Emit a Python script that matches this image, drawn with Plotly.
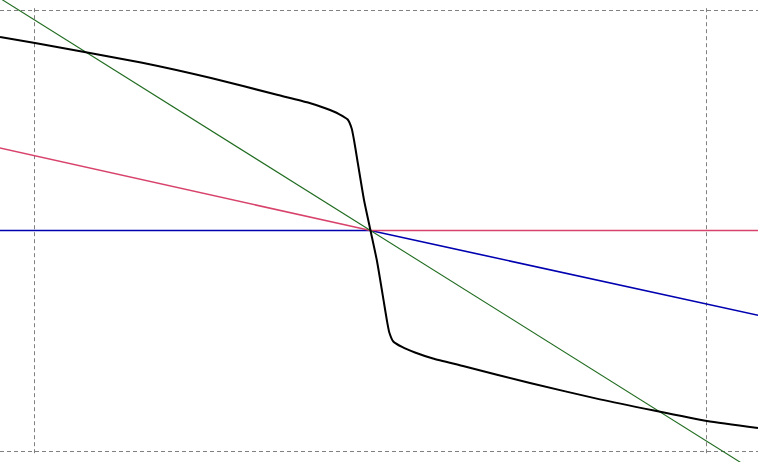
import plotly.graph_objects as go

# Grid positions (dashed reference lines)
x_grid = [-1.0, 1.0]
y_grid = [-1.0, 1.0]

# Straight lines
line_x = [-1.2, 0.0, 1.2]
pink_y = [0.407, 0.0, 0.0]
blue_y = [0.0, 0.0, -0.40]
green_x = [-1.2, 1.2]
green_y = [1.146, -1.146]

# Black curve
black_x = [-1.1027, -0.9985, -0.6830, -0.4747, -0.2753, -0.1860, -0.1324, -0.0938,
           -0.0679, -0.0560, -0.0491, -0.0402, -0.0193, 0.0,
           0.0193, 0.0402, 0.0491, 0.0560, 0.0679, 0.0938, 0.1324, 0.1860,
           0.2753, 0.4747, 0.6830, 1.0015, 1.1533]
black_y = [0.8776, 0.8503, 0.7620, 0.6916, 0.6145, 0.5805, 0.5533, 0.5283,
           0.5034, 0.4626, 0.4104, 0.3288, 0.1383, 0.0,
           -0.1383, -0.3288, -0.4104, -0.4626, -0.5034, -0.5283, -0.5533, -0.5805,
           -0.6145, -0.6916, -0.7660, -0.8639, -0.8957]

x_range = [-1.1027, 1.1533]
y_range = [-1.0499, 1.0454]

fig = go.Figure()
fig.add_trace(go.Scatter(x=line_x, y=blue_y, mode="lines",
                         line=dict(color="#0000b0", width=1.6), hoverinfo="skip"))
fig.add_trace(go.Scatter(x=line_x, y=pink_y, mode="lines",
                         line=dict(color="#d8436c", width=1.6), hoverinfo="skip"))
fig.add_trace(go.Scatter(x=green_x, y=green_y, mode="lines",
                         line=dict(color="#1f6b1f", width=1.1), hoverinfo="skip"))
fig.add_trace(go.Scatter(x=black_x, y=black_y, mode="lines",
                         line=dict(color="#000000", width=2, shape="spline", smoothing=0.5),
                         hoverinfo="skip"))

for gx in x_grid:
    fig.add_shape(type="line", xref="x", yref="y", x0=gx, x1=gx,
                  y0=y_grid[0] - 0.01, y1=y_grid[1] + 0.01, layer="below",
                  line=dict(color="#808080", width=1, dash="4px,3px"))

fig.update_layout(
    width=758, height=462, autosize=False,
    margin=dict(l=0, r=0, t=0, b=0, pad=0),
    paper_bgcolor="white", plot_bgcolor="white",
    showlegend=False,
    xaxis=dict(range=x_range, showgrid=False, zeroline=False, showline=False,
               showticklabels=False, ticks="", tickvals=x_grid, fixedrange=True),
    yaxis=dict(range=y_range, showgrid=True, gridcolor="#808080", gridwidth=1,
               griddash="4px,3px", zeroline=False, showline=False,
               showticklabels=False, ticks="", tickvals=y_grid, fixedrange=True),
)

fig.write_html("out.html", config={"displayModeBar": False},
               post_script="document.body.style.margin='0';document.body.style.overflow='hidden';")
